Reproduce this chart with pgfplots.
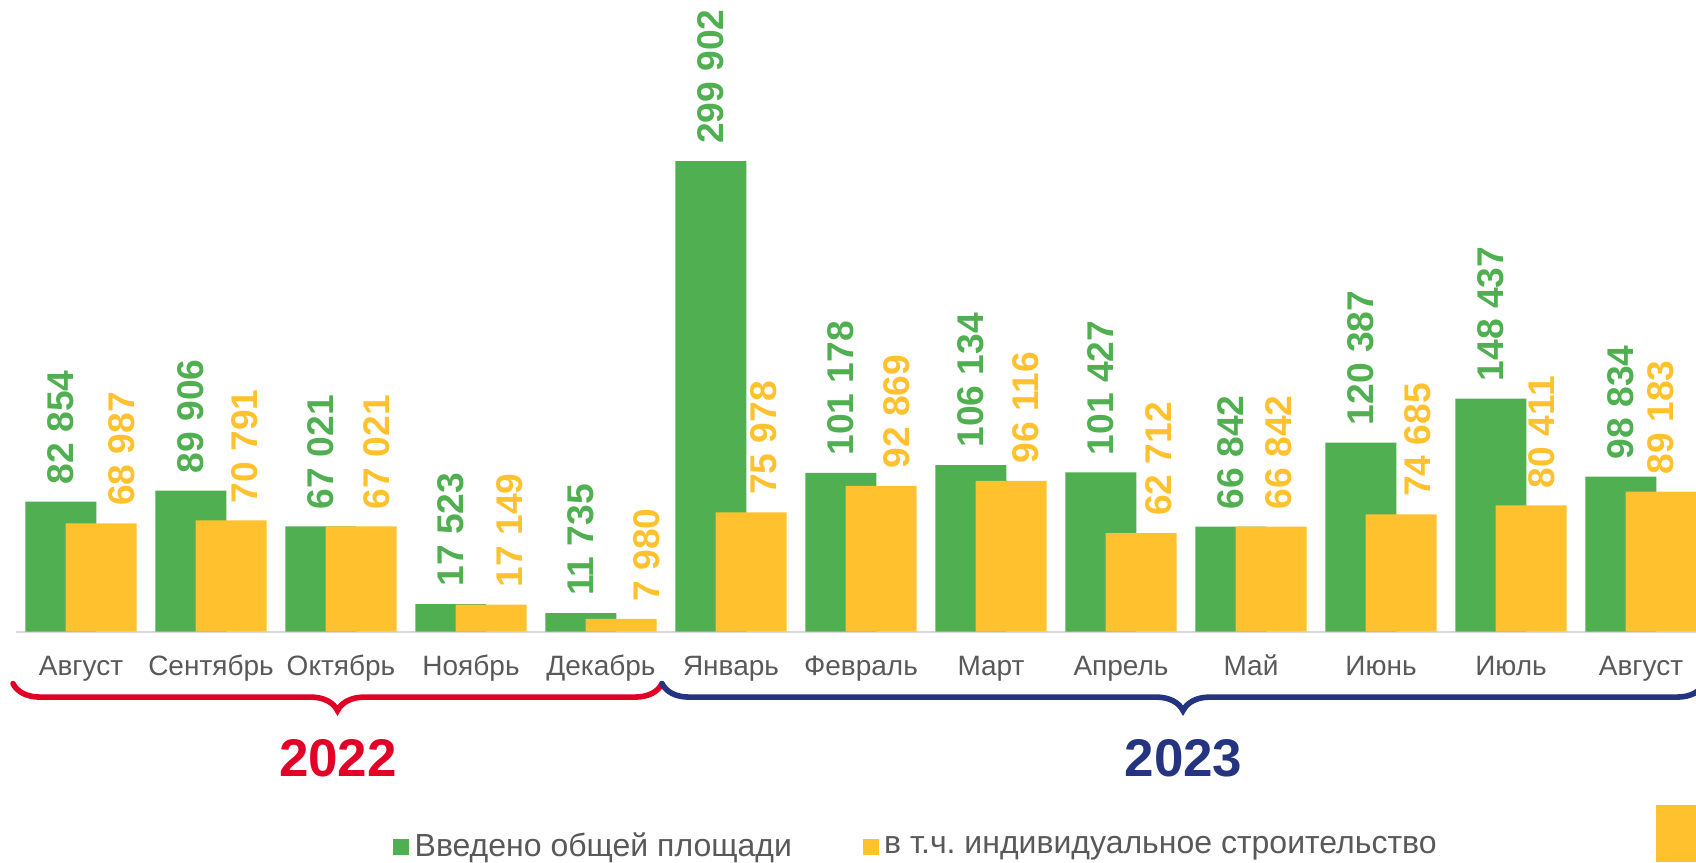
\documentclass[border=0pt]{standalone}
\usepackage{fontspec}
\setmainfont{Liberation Sans}
\usepackage{pgfplots}
\usepackage{pgfplotstable}
\pgfplotsset{compat=1.18}
\usetikzlibrary{decorations.pathreplacing}
\definecolor{cgreen}{RGB}{80,175,80}
\definecolor{cyellow}{RGB}{255,194,46}
\definecolor{cred}{RGB}{226,0,38}
\definecolor{cblue}{RGB}{37,52,128}
\definecolor{cgrey}{RGB}{89,89,89}
\definecolor{caxis}{RGB}{217,217,217}
\frenchspacing

\pgfplotstableread{
x total dx
0 82854 0
1 89906 0
2 67021 0
3 17523 0
4 11735 0
5 299902 0
6 101178 0
7 106134 0
8 101427 0
9 66842 0
10 120387 0
11 148437 0
12 98834 0
}\totaltable

\pgfplotstableread{
x indiv dx
0 68987 10.25
1 70791 6.5
2 67021 7.5
3 17149 9
4 7980 12.5
5 75978 6
6 92869 7.5
7 96116 7
8 62712 8.5
9 66842 3.5
10 74685 8
11 80411 5
12 89183 -0.5
}\indivtable

\begin{document}
\begin{tikzpicture}
\useasboundingbox (0,0) rectangle (848pt,431pt);
\begin{axis}[
  at={(8pt,115.25pt)}, anchor=south west,
  scale only axis, width=840pt, height=313.6pt,
  xmin=-0.5, xmax=12.4231, ymin=0, ymax=400000,
  enlargelimits=false, clip=false,
  axis y line=none, axis x line*=bottom,
  x axis line style={draw=caxis, line width=1pt},
  xtick={0,...,12},
  xticklabels={Август,Сентябрь,Октябрь,Ноябрь,Декабрь,Январь,Февраль,Март,Апрель,Май,Июнь,Июль,Август},
  xtick style={draw=none}, major tick length=0pt,
  xticklabel style={anchor=base, yshift=-21.75pt, font=\fontsize{14}{16}\selectfont, text=cgrey},
  ybar, bar width=35.5pt,
  nodes near coords={\pgfmathprintnumber[fixed, precision=0, 1000 sep={\ }, assume math mode=true]{\pgfplotspointmeta}},
  visualization depends on={\thisrow{dx} \as \dx},
  every node near coord/.append style={xshift=\dx pt, rotate=90, anchor=west, inner xsep=8.5pt, inner ysep=0pt, font=\bfseries\fontsize{18.6}{20}\selectfont},
  legend style={draw=none, fill=none, inner sep=0pt, outer sep=0pt,
    at={(axis description cs:0.2245,-0.3420)}, anchor=west,
    legend columns=2, font=\fontsize{16}{19}\selectfont, text=cgrey,
    /tikz/every even column/.append style={column sep=33.3pt},
    /tikz/every odd column/.append style={column sep=0.75pt}},
  legend image code/.code={\fill[#1] (0pt,-4.6pt) rectangle (8pt,3.4pt);},
]
\addplot[color=cgreen, fill=cgreen, draw=none, bar shift=-10.1pt] table[x=x, y=total] {\totaltable};
\addlegendentry{Введено общей площади}
\addplot[color=cyellow, fill=cyellow, draw=none, bar shift=10.1pt] table[x=x, y=indiv] {\indivtable};
\addlegendentry{в т.ч. индивидуальное строительство}
\end{axis}
\draw[cred, line width=2.8pt, line cap=round, decorate, decoration={brace, mirror, amplitude=13.5pt}] (6.5pt,89.2pt) -- (331pt,89.2pt);
\draw[cblue, line width=2.8pt, line cap=round, decorate, decoration={brace, mirror, amplitude=13.5pt}] (331pt,89.2pt) -- (852pt,89.2pt);
\node[text=cred, font=\bfseries\fontsize{26.5}{30}\selectfont, inner sep=0pt] at (169pt,52pt) {2022};
\node[text=cblue, font=\bfseries\fontsize{26.5}{30}\selectfont, inner sep=0pt] at (591.75pt,52pt) {2023};
\fill[cyellow] (828pt,0pt) rectangle (848pt,28.5pt);
\end{tikzpicture}
\end{document}
